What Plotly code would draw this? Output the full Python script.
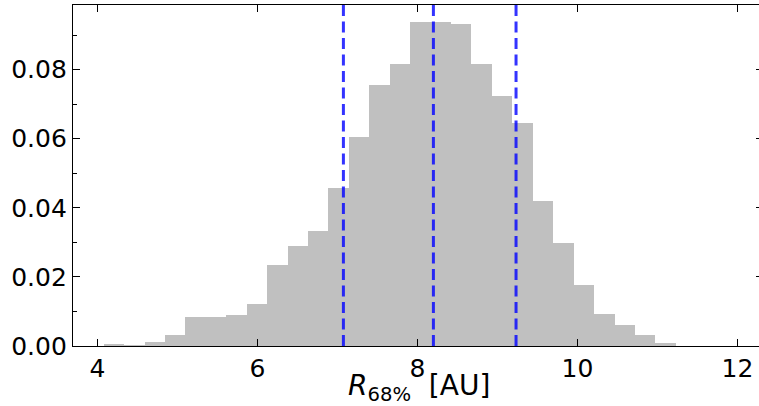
import plotly.graph_objects as go

# Histogram bin edges (R_68% in AU) and normalized weights
bin_edges = [4.079, 4.334, 4.590, 4.845, 5.101, 5.356, 5.611, 5.867, 6.122, 6.378,
             6.633, 6.888, 7.144, 7.399, 7.655, 7.910, 8.165, 8.421, 8.676, 8.932,
             9.187, 9.442, 9.698, 9.953, 10.209, 10.464, 10.719, 10.975, 11.230, 11.486,
             11.741]
weights = [0.0003, 0.0001, 0.0011, 0.0033, 0.0083, 0.0083, 0.0090, 0.0123, 0.0234, 0.0289,
           0.0334, 0.0457, 0.0604, 0.0756, 0.0817, 0.0938, 0.0937, 0.0932, 0.0815, 0.0723,
           0.0645, 0.0419, 0.0298, 0.0177, 0.0093, 0.0060, 0.0033, 0.0008, 0.0, 0.0]
# 16th, 50th, 84th percentiles
percentiles = [7.075, 8.20, 9.233]

x_range = [3.695, 12.27]
y_range = [0, 0.0987]
x_ticks = [4, 6, 8, 10, 12]
y_ticks = [0.00, 0.02, 0.04, 0.06, 0.08]
x_title = "<i>R</i><sub>68%</sub>&nbsp; [AU]"

centers = [(a + b) / 2 for a, b in zip(bin_edges[:-1], bin_edges[1:])]
widths = [b - a for a, b in zip(bin_edges[:-1], bin_edges[1:])]

fig = go.Figure()
fig.add_trace(go.Bar(x=centers, y=weights, width=widths,
                     marker=dict(color="#c0c0c0", line=dict(width=0)),
                     showlegend=False, hoverinfo="skip"))
# invisible trace on right axis so its ticks render
fig.add_trace(go.Scatter(x=[x_range[0]], y=[0], yaxis="y2", mode="markers",
                         marker=dict(opacity=0), showlegend=False, hoverinfo="skip"))

for p in percentiles:
    fig.add_vline(x=p, line=dict(color="rgba(0,0,255,0.8)", width=3, dash="11px,5.5px"),
                  layer="above")

fig.add_annotation(text=x_title, xref="paper", yref="paper", x=0.504, y=-0.181,
                   xanchor="center", yanchor="bottom", showarrow=False,
                   font=dict(family="DejaVu Sans", size=28, color="black"))

font = dict(family="DejaVu Sans", size=25, color="black")
fig.update_layout(
    width=759, height=406,
    margin=dict(l=73, r=0, t=5, b=60),
    plot_bgcolor="white", paper_bgcolor="white",
    bargap=0,
    font=font,
    xaxis=dict(range=x_range, tickvals=x_ticks, ticks="inside", ticklen=7, tickwidth=1.3,
               tickcolor="black", showline=True, linecolor="black", linewidth=1.3,
               mirror="ticks", showgrid=False, zeroline=False, automargin=False,
               tickfont=font),
    yaxis=dict(range=y_range, tickvals=y_ticks, tickformat=".2f", ticks="inside", ticklen=7,
               tickwidth=1.3, tickcolor="black", showline=True, linecolor="black",
               linewidth=1.3, mirror=False, showgrid=False, zeroline=False, automargin=False,
               tickfont=font,
               minor=dict(ticks="inside", ticklen=4, tickwidth=1, tickcolor="black",
                          tickvals=[0.01, 0.03, 0.05, 0.07, 0.09], showgrid=False)),
    yaxis2=dict(range=y_range, tickvals=y_ticks, overlaying="y", side="right", anchor="x",
                ticks="inside", ticklen=3, tickwidth=1.3, tickcolor="black", automargin=False,
                showticklabels=False, showline=False, showgrid=False, zeroline=False),
)

fig.write_html("out.html")
